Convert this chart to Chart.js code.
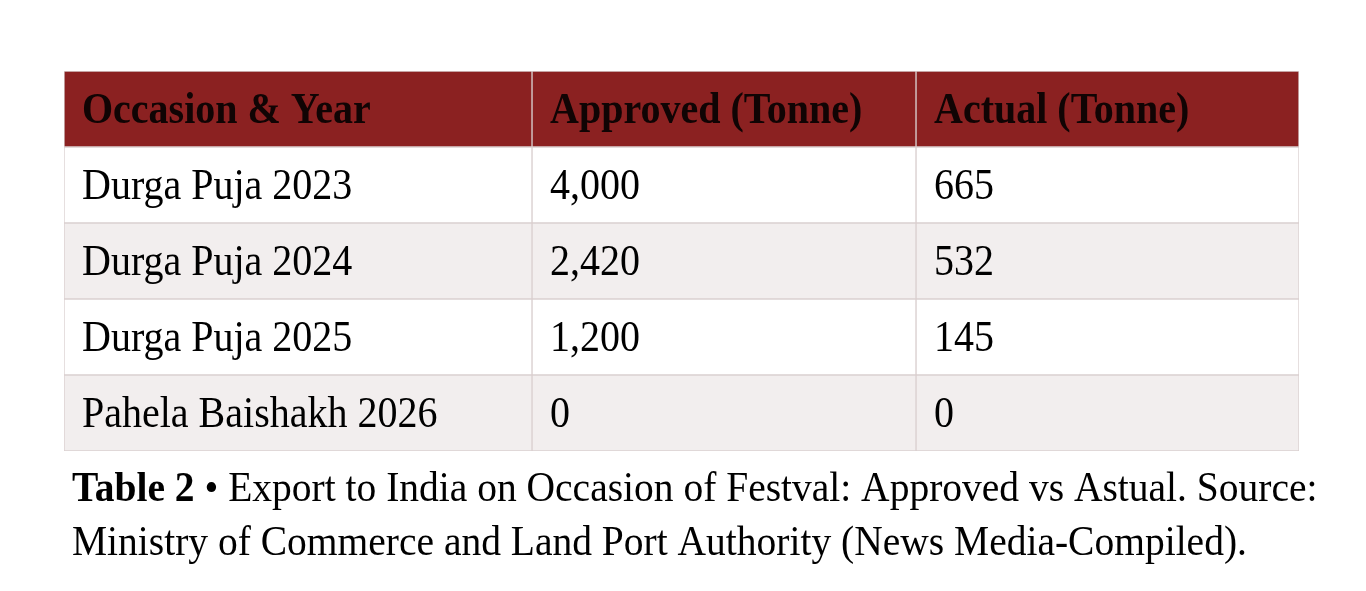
<!DOCTYPE html>
<html>
<head>
<meta charset="utf-8">
<script src="https://cdn.jsdelivr.net/npm/chart.js@4.4.1/dist/chart.umd.min.js"></script>
<style>
  html, body { margin: 0; padding: 0; background: #ffffff; }
  #wrap { width: 1366px; height: 591px; }
</style>
</head>
<body>
<div id="wrap"><canvas id="myChart" width="1366" height="591"></canvas></div>
<script>
// table content
const headers = ['Occasion & Year', 'Approved (Tonne)', 'Actual (Tonne)'];
const occasions = ['Durga Puja 2023', 'Durga Puja 2024', 'Durga Puja 2025', 'Pahela Baishakh 2026'];
const approved = [4000, 2420, 1200, 0];
const actual = [665, 532, 145, 0];
const captionBold = 'Table 2';
const captionLine1 = ' \u2022 Export to India on Occasion of Festval: Approved vs Astual. Source:';
const captionLine2 = 'Ministry of Commerce and Land Port Authority (News Media-Compiled).';

// layout: column edges on the x scale (pixels of table width)
const colEdges = [0, 468, 852, 1235];
const rowLabels = ['header'].concat(occasions);

const headerColor = '#8b2121';
const rowColors = ['#ffffff', '#f2eeee'];
const lineColor = '#dad0d0';
const serif = '"Liberation Serif", "Times New Roman", serif';
const stretch = 1.09; // the reference text is a little taller than the font

const fmt = (v) => v.toLocaleString('en-US');
const columnText = [
    [headers[0]].concat(occasions),
    [headers[1]].concat(approved.map(fmt)),
    [headers[2]].concat(actual.map(fmt)),
];

const fills = rowLabels.map((r, i) => i === 0 ? headerColor : rowColors[(i - 1) % 2]);

const datasets = columnText.map((col, c) => ({
    label: headers[c],
    data: rowLabels.map(() => [colEdges[c], colEdges[c + 1]]),
    backgroundColor: fills,
    borderColor: lineColor,
    borderWidth: 1,
    borderSkipped: false,
    grouped: false,
    barPercentage: 1,
    categoryPercentage: 1,
}));

function tallText(ctx, text, x, y) {
    ctx.save();
    ctx.translate(x, y);
    ctx.scale(1, stretch);
    ctx.fillText(text, 0, 0);
    ctx.restore();
}

const cellText = {
    id: 'cellText',
    afterDatasetsDraw(chart) {
        const ctx = chart.ctx;
        ctx.save();
        ctx.textBaseline = 'middle';
        ctx.textAlign = 'left';
        chart.data.datasets.forEach((ds, c) => {
            const meta = chart.getDatasetMeta(c);
            meta.data.forEach((bar, r) => {
                const left = Math.min(bar.x, bar.base);
                ctx.font = (r === 0 ? 'bold ' : '') + '40px ' + serif;
                ctx.fillStyle = r === 0 ? '#100404' : '#000000';
                tallText(ctx, columnText[c][r], left + 18, bar.y + 3);
            });
        });

        // caption under the table
        const x0 = chart.chartArea.left + 8;
        const y1 = chart.chartArea.bottom + 50;
        ctx.textBaseline = 'alphabetic';
        ctx.fillStyle = '#000000';
        ctx.font = 'bold 39.5px ' + serif;
        tallText(ctx, captionBold, x0, y1);
        const w = ctx.measureText(captionBold).width;
        ctx.font = '39.5px ' + serif;
        tallText(ctx, captionLine1, x0 + w, y1);
        tallText(ctx, captionLine2, x0, y1 + 54);
        ctx.restore();
    }
};

const config = {
    type: 'bar',
    data: { labels: rowLabels, datasets: datasets },
    options: {
        indexAxis: 'y',
        responsive: false,
        animation: false,
        devicePixelRatio: 1,
        layout: { padding: { left: 64, right: 67, top: 71, bottom: 140 } },
        scales: {
            x: { type: 'linear', min: colEdges[0], max: colEdges[colEdges.length - 1], display: false },
            y: { type: 'category', offset: true, display: false },
        },
        plugins: {
            legend: { display: false },
            tooltip: { enabled: false },
        },
    },
    plugins: [cellText],
};

const myChart = new Chart(document.getElementById('myChart'), config);
</script>
</body>
</html>
